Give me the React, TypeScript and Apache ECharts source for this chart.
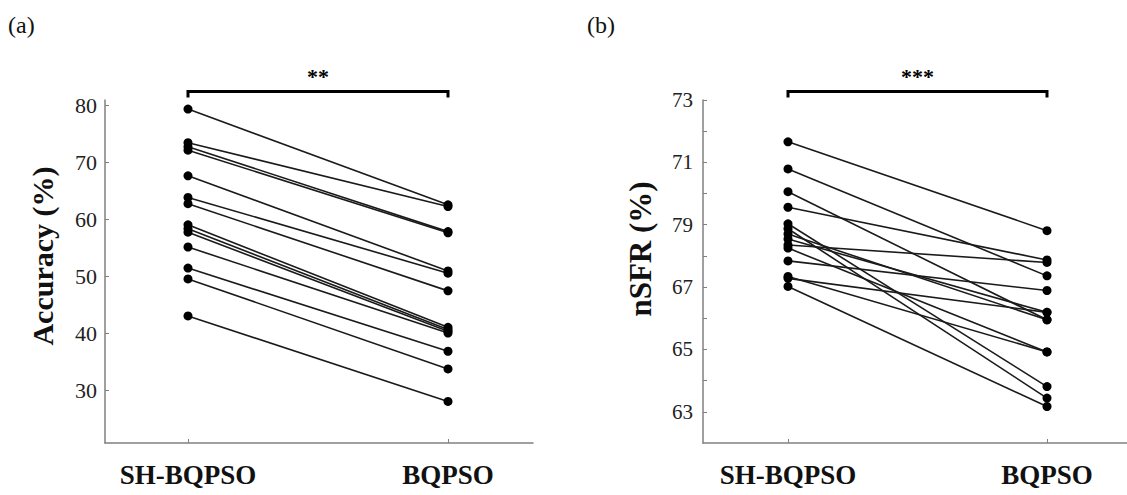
import React, { useEffect, useRef } from "react";
import * as echarts from "echarts";

const categories = ["SH-BQPSO", "BQPSO"];
const categoryPositions = [1, 2];

const accuracySH = [79.3, 73.4, 72.7, 72.1, 67.6, 63.8, 62.7, 59.0, 58.3, 57.7, 55.1, 51.4, 49.5, 43.0];
const accuracyBQ = [62.5, 62.2, 57.8, 57.6, 50.9, 50.5, 47.4, 41.0, 40.6, 40.3, 40.0, 36.8, 33.7, 28.0];

const nsfrSH = [71.66, 70.79, 70.06, 69.56, 69.03, 68.87, 68.7, 68.54, 68.35, 68.25, 67.84, 67.34, 67.28, 67.02];
const nsfrBQ = [68.81, 67.36, 65.95, 67.87, 63.81, 63.44, 65.95, 66.19, 67.79, 64.92, 66.89, 64.92, 66.19, 63.17];

const accuracyTicks = [30, 40, 50, 60, 70, 80];
const nsfrLabelValues = [63, 65, 67, 69, 71, 73];
const nsfrTickLabels = ["63", "65", "67", "79", "71", "73"];
const nsfrTickValues = [63, 64, 65, 66, 67, 68, 69, 70, 71, 72, 73];

const panelLabels = ["(a)", "(b)"];
const yTitles = ["Accuracy (%)", "nSFR (%)"];
const significance = ["**", "***"];

export default function App() {
  const ref = useRef<HTMLDivElement>(null);

  useEffect(() => {
    if (!ref.current) return;
    const chart = echarts.init(ref.current, null, { renderer: "svg" });
    const font = '"Liberation Serif", "Times New Roman", serif';

    const axisLine = { show: true, lineStyle: { color: "#808080", width: 1.5 } };

    const makeSeries = (sh: number[], bq: number[], idx: number) =>
      sh.map((v, i) => ({
        type: "line",
        xAxisIndex: idx,
        yAxisIndex: idx,
        data: [
          [categoryPositions[0], v],
          [categoryPositions[1], bq[i]],
        ],
        symbol: "circle",
        symbolSize: 9,
        itemStyle: { color: "#000" },
        lineStyle: { color: "#1a1a1a", width: 1.6 },
        silent: true,
        z: 3,
      }));

    const xAxisFor = (idx: number, min: number, max: number) => ({
      type: "value",
      gridIndex: idx,
      min,
      max,
      axisLine,
      splitLine: { show: false },
      axisTick: {
        show: true,
        inside: true,
        length: 4,
        customValues: categoryPositions,
        lineStyle: { color: "#808080", width: 1 },
      },
      axisLabel: {
        customValues: categoryPositions,
        formatter: (v: number) => categories[Math.round(v) - 1],
        fontFamily: font,
        fontWeight: "bold",
        fontSize: 27,
        color: "#111",
        margin: 18,
      },
    });

    chart.setOption({
      animation: false,
      backgroundColor: "#fff",
      grid: [
        { left: 105, top: 100, width: 428, height: 343, outerBoundsMode: "none" },
        { left: 703, top: 100, width: 424, height: 343, outerBoundsMode: "none" },
      ],
      xAxis: [xAxisFor(0, 0.6808, 2.3269), xAxisFor(1, 0.6718, 2.3089)],
      yAxis: [
        {
          type: "value",
          gridIndex: 0,
          min: 20.7,
          max: 80.9,
          axisLine,
          splitLine: { show: false },
          axisTick: {
            show: true,
            inside: true,
            length: 4,
            customValues: accuracyTicks,
            lineStyle: { color: "#808080", width: 1 },
          },
          axisLabel: {
            customValues: accuracyTicks,
            fontFamily: font,
            fontSize: 22,
            color: "#222",
            margin: 8,
          },
        },
        {
          type: "value",
          gridIndex: 1,
          min: 62,
          max: 73,
          axisLine,
          splitLine: { show: false },
          axisTick: {
            show: true,
            inside: true,
            length: 4,
            customValues: nsfrTickValues,
            lineStyle: { color: "#808080", width: 1 },
          },
          axisLabel: {
            customValues: nsfrLabelValues,
            formatter: (v: number) => nsfrTickLabels[nsfrLabelValues.indexOf(Math.round(v))],
            fontFamily: font,
            fontSize: 21,
            color: "#222",
            margin: 10,
          },
        },
      ],
      series: [...makeSeries(accuracySH, accuracyBQ, 0), ...makeSeries(nsfrSH, nsfrBQ, 1)],
    });

    const graphics: any[] = [];
    [0, 1].forEach((idx) => {
      const x1 = chart.convertToPixel({ xAxisIndex: idx } as any, categoryPositions[0]) as number;
      const x2 = chart.convertToPixel({ xAxisIndex: idx } as any, categoryPositions[1]) as number;
      const yAxisX = idx === 0 ? 105 : 703;
      const by = 91.5;
      graphics.push({
        type: "polyline",
        shape: { points: [[x1, by + 6], [x1, by], [x2, by], [x2, by + 6]] },
        style: { stroke: "#000", lineWidth: 3, fill: "none" },
      });
      graphics.push({
        type: "text",
        x: (x1 + x2) / 2,
        y: 76,
        style: {
          text: significance[idx],
          font: `bold 22px ${font}`,
          fill: "#000",
          textAlign: "center",
          textVerticalAlign: "middle",
        },
      });
      graphics.push({
        type: "text",
        x: idx === 0 ? 8 : 587,
        y: 25,
        style: {
          text: panelLabels[idx],
          font: `24px ${font}`,
          fill: "#111",
          textAlign: "left",
          textVerticalAlign: "middle",
        },
      });
      graphics.push({
        type: "text",
        x: yAxisX - 63,
        y: idx === 0 ? 256 : 249,
        rotation: Math.PI / 2,
        style: {
          text: yTitles[idx],
          font: `bold ${idx === 0 ? 30 : 31}px ${font}`,
          fill: "#111",
          textAlign: "center",
          textVerticalAlign: "middle",
        },
      });
    });
    chart.setOption({ graphic: graphics });

    return () => chart.dispose();
  }, []);

  return (
    <div
      ref={ref}
      style={{ position: "fixed", left: 0, top: 0, width: 1127, height: 495, background: "#fff" }}
    />
  );
}
